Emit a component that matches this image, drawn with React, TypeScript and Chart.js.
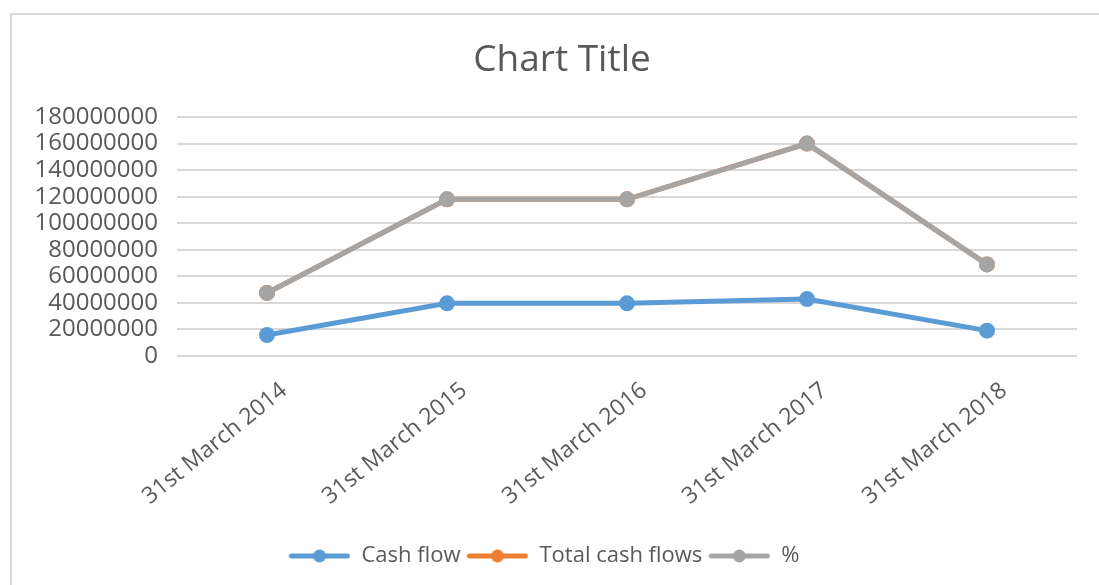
import React, { useEffect, useRef } from "react";
import { Chart, registerables } from "chart.js";

Chart.register(...registerables);

const categories = [
  "31st March 2014",
  "31st March 2015",
  "31st March 2016",
  "31st March 2017",
  "31st March 2018",
];
const cashFlow = [15800000, 39700000, 39700000, 42900000, 19100000];
const totalCashFlows = [47500000, 118000000, 118000000, 160000000, 69000000];
const percent = [47500000, 118000000, 118000000, 160000000, 69000000];

const seriesNames = ["Cash flow", "Total cash flows", "%"];
const seriesColors = ["#5B9BD5", "#ED7D31", "#A5A5A5"];

const FONT = "'Open Sans', 'DejaVu Sans', sans-serif";
const TEXT = "#595959";

function makeMarker(color: string): HTMLCanvasElement {
  const c = document.createElement("canvas");
  c.width = 62;
  c.height = 16;
  const ctx = c.getContext("2d")!;
  ctx.strokeStyle = color;
  ctx.lineWidth = 5;
  ctx.lineCap = "round";
  ctx.beginPath();
  ctx.moveTo(3, 8);
  ctx.lineTo(59, 8);
  ctx.stroke();
  ctx.fillStyle = color;
  ctx.beginPath();
  ctx.arc(31, 8, 6.5, 0, Math.PI * 2);
  ctx.fill();
  return c;
}

const titleShift = {
  id: "titleShift",
  afterLayout(chart: any) {
    if (chart.titleBlock) chart.titleBlock.left += 36;
  },
};

export default function App() {
  const ref = useRef<HTMLCanvasElement | null>(null);

  useEffect(() => {
    if (!ref.current) return;
    const markers = seriesColors.map(makeMarker);
    const values = [cashFlow, totalCashFlows, percent];
    const orders = [0, 2, 1];
    const chart = new Chart(ref.current, {
      type: "line",
      data: {
        labels: categories,
        datasets: values.map((v, i) => ({
          label: seriesNames[i],
          data: v,
          borderColor: seriesColors[i],
          backgroundColor: seriesColors[i],
          pointBackgroundColor: seriesColors[i],
          pointBorderColor: seriesColors[i],
          borderWidth: 5,
          pointRadius: 8,
          pointBorderWidth: 0,
          tension: 0,
          order: orders[i],
        })),
      },
      plugins: [titleShift],
      options: {
        responsive: false,
        animation: false,
        layout: { padding: { left: 11, right: 22, top: 14, bottom: 8 } },
        plugins: {
          title: {
            display: true,
            text: "Chart Title",
            color: TEXT,
            font: { family: FONT, size: 37, weight: "normal" },
            padding: { top: 24, bottom: 34.6 },
          },
          legend: {
            position: "bottom",
            labels: {
              usePointStyle: true,
              pointStyleWidth: 62,
              color: TEXT,
              padding: 6,
              font: { family: FONT, size: 22 },
              sort: (a: any, b: any) => a.datasetIndex - b.datasetIndex,
              generateLabels: (ch: any) => {
                const items = Chart.defaults.plugins.legend.labels.generateLabels(ch);
                return items.map((it: any) => ({
                  ...it,
                  pointStyle: markers[it.datasetIndex],
                }));
              },
            },
          },
          tooltip: { enabled: false },
        },
        scales: {
          x: {
            offset: true,
            grid: { display: false, drawTicks: false },
            border: { display: false },
            ticks: {
              color: TEXT,
              font: { family: FONT, size: 23 },
              minRotation: 39,
              maxRotation: 39,
              padding: 21,
              labelOffset: 17,
              autoSkip: false,
            },
            afterFit: (s: any) => {
              s.height = 183;
            },
          },
          y: {
            min: 0,
            max: 180000000,
            grid: { color: "#D9D9D9", lineWidth: 2, drawTicks: false },
            border: { display: false },
            ticks: {
              stepSize: 20000000,
              color: TEXT,
              padding: 19,
              autoSkip: false,
              font: { family: FONT, size: 24 },
              callback: (v: any) => String(v),
            },
            afterFit: (s: any) => {
              s.width = 166;
            },
          },
        },
      },
    });
    return () => chart.destroy();
  }, []);

  return (
    <div style={{ position: "absolute", left: 0, top: 0, width: 1099, height: 585, background: "#fff", overflow: "hidden" }}>
      <div
        style={{
          position: "absolute",
          left: 10,
          top: 13,
          width: 1099,
          height: 600,
          border: "2px solid #D9D9D9",
          boxSizing: "border-box",
        }}
      />
      <canvas ref={ref} width={1099} height={585} style={{ position: "absolute", left: 0, top: 0, width: 1099, height: 585 }} />
    </div>
  );
}
